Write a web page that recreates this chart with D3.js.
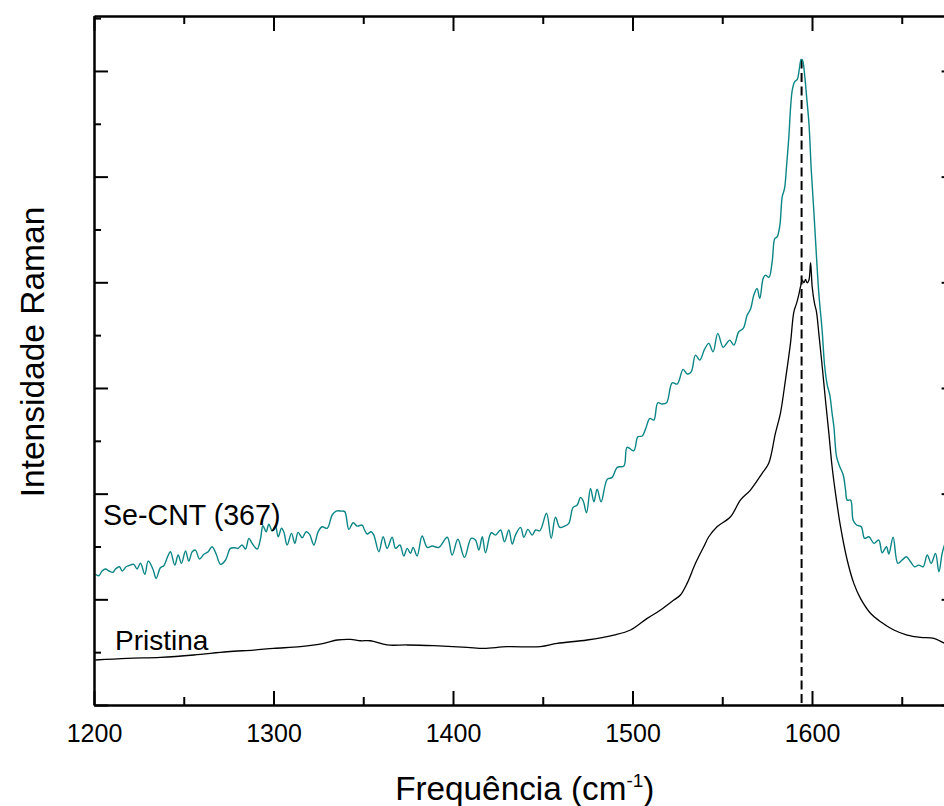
<!DOCTYPE html>
<html>
<head>
<meta charset="utf-8">
<script src="https://cdn.jsdelivr.net/npm/d3@7"></script>
<style>
  html, body { margin: 0; padding: 0; background: #fff; }
  svg { display: block; }
  text { font-family: "Liberation Sans", Arial, Helvetica, sans-serif; fill: #000; }
</style>
</head>
<body>
<svg id="chart" width="944" height="806"></svg>
<script>
// Raman spectra: wavenumber (cm-1) and intensity (a.u.)
const seCntFreq = [1200.8,1202.7,1204.5,1206.4,1208.3,1210.5,1212.0,1214.2,1215.7,1217.9,1219.4,1222.2,1224.0,1225.9,1228.3,1230.2,1232.8,1234.6,1237.0,1238.9,1240.8,1242.6,1245.0,1246.9,1248.7,1251.0,1252.8,1254.7,1256.5,1258.8,1261.2,1263.6,1265.8,1268.1,1270.5,1273.3,1276.0,1278.5,1280.3,1282.5,1284.4,1286.3,1288.1,1290.9,1292.8,1294.1,1295.9,1297.4,1299.3,1301.1,1302.6,1304.5,1305.8,1307.6,1310.0,1311.9,1313.7,1316.0,1318.2,1320.1,1322.5,1324.9,1327.1,1329.9,1332.7,1334.9,1337.9,1339.7,1342.0,1344.4,1346.6,1349.4,1350.7,1352.2,1354.4,1355.9,1358.7,1361.1,1363.3,1366.1,1368.0,1370.4,1372.6,1374.5,1376.3,1377.8,1380.0,1382.8,1385.6,1388.4,1392.1,1396.8,1399.5,1402.7,1406.4,1410.1,1412.5,1414.4,1416.3,1418.1,1421.3,1423.7,1426.5,1428.7,1431.1,1433.0,1434.8,1437.6,1439.5,1441.7,1444.1,1446.0,1448.4,1452.1,1454.7,1457.1,1459.5,1462.1,1464.5,1466.9,1469.2,1471.0,1472.5,1474.4,1476.6,1478.5,1480.3,1482.5,1485.9,1488.7,1491.5,1495.2,1497.0,1500.7,1503.0,1505.4,1507.2,1509.7,1511.9,1514.1,1516.5,1519.0,1522.1,1524.9,1528.2,1530.5,1532.7,1535.1,1537.5,1540.1,1542.5,1544.9,1547.5,1550.5,1552.7,1554.2,1556.5,1559.2,1561.7,1563.9,1565.7,1567.6,1569.4,1570.9,1572.8,1574.1,1576.0,1577.8,1579.3,1580.6,1582.1,1583.4,1584.7,1585.8,1587.1,1588.1,1589.0,1590.3,1591.8,1592.9,1594.0,1594.7,1595.9,1597.0,1598.3,1599.6,1601.1,1602.5,1603.8,1605.7,1607.0,1608.5,1609.9,1611.2,1612.2,1613.7,1615.5,1617.4,1618.7,1619.6,1621.5,1622.9,1624.8,1627.4,1629.3,1631.7,1634.5,1637.2,1639.1,1641.5,1642.8,1645.2,1647.8,1650.2,1652.6,1654.9,1657.1,1659.5,1661.9,1664.2,1666.4,1668.8,1670.7,1672.5,1673.8];
const seCntInt = [1.237,1.223,1.268,1.287,1.268,1.255,1.287,1.308,1.268,1.308,1.318,1.331,1.287,1.341,1.237,1.362,1.287,1.199,1.299,1.318,1.394,1.450,1.324,1.419,1.341,1.457,1.362,1.450,1.466,1.381,1.426,1.450,1.498,1.426,1.331,1.372,1.482,1.488,1.482,1.514,1.476,1.577,1.530,1.476,1.577,1.696,1.640,1.710,1.646,1.696,1.592,1.672,1.634,1.514,1.624,1.530,1.634,1.583,1.640,1.615,1.514,1.640,1.687,1.672,1.798,1.835,1.835,1.830,1.662,1.725,1.693,1.703,1.656,1.618,1.640,1.608,1.450,1.592,1.482,1.587,1.482,1.514,1.410,1.482,1.435,1.492,1.410,1.599,1.492,1.504,1.492,1.587,1.419,1.568,1.397,1.577,1.561,1.466,1.592,1.441,1.630,1.608,1.656,1.545,1.656,1.523,1.608,1.681,1.587,1.662,1.608,1.656,1.649,1.814,1.577,1.776,1.681,1.693,1.719,1.870,1.892,1.965,1.933,1.819,2.050,1.923,2.041,1.923,2.135,2.154,2.249,2.261,2.438,2.406,2.538,2.545,2.608,2.712,2.696,2.860,2.848,2.860,3.049,3.037,3.176,3.132,3.153,3.311,3.264,3.365,3.422,3.342,3.517,3.384,3.428,3.453,3.406,3.532,3.564,3.690,3.744,3.879,3.942,3.848,4.037,4.068,4.046,4.194,4.415,4.431,4.541,4.809,4.888,5.093,5.377,5.660,5.818,5.897,5.920,6.014,6.109,6.102,5.960,5.755,5.503,5.061,4.652,4.241,3.895,3.532,3.217,3.028,2.934,2.760,2.633,2.349,2.255,2.176,2.034,1.939,1.939,1.750,1.703,1.687,1.577,1.592,1.530,1.561,1.441,1.498,1.429,1.587,1.341,1.372,1.403,1.356,1.308,1.324,1.308,1.419,1.341,1.435,1.261,1.435,1.514];

const pristineFreq = [1200.8,1218.5,1237.0,1255.6,1274.2,1289.0,1300.2,1315.0,1328.0,1335.5,1342.9,1348.5,1354.0,1363.3,1374.5,1389.3,1407.9,1417.2,1430.2,1448.7,1458.0,1474.7,1489.6,1498.9,1508.2,1515.6,1523.0,1526.7,1530.4,1535.1,1539.7,1542.5,1547.1,1554.6,1560.1,1565.7,1572.2,1575.9,1579.6,1582.4,1585.2,1588.0,1589.9,1591.4,1592.7,1593.6,1594.6,1595.5,1596.4,1597.3,1598.3,1599.2,1600.1,1601.4,1602.5,1603.8,1605.7,1607.5,1609.4,1611.2,1613.1,1615.9,1619.6,1623.3,1627.0,1632.6,1638.2,1645.6,1653.0,1660.5,1667.9,1673.8];
const pristineInt = [0.426,0.442,0.451,0.473,0.504,0.520,0.536,0.552,0.583,0.615,0.621,0.608,0.608,0.568,0.568,0.561,0.546,0.536,0.552,0.552,0.583,0.615,0.662,0.710,0.820,0.899,0.993,1.041,1.151,1.341,1.498,1.592,1.687,1.781,1.939,2.034,2.192,2.287,2.570,2.760,3.075,3.422,3.721,3.800,3.888,3.958,4.021,3.995,4.027,3.995,4.021,4.185,3.958,3.800,3.721,3.517,3.201,2.886,2.570,2.255,2.003,1.687,1.372,1.151,1.009,0.868,0.788,0.710,0.662,0.640,0.631,0.583];

// G-band reference position marked by the dashed line
const gBandPosition = 1594.2;

// Axis ticks
const xMajorTicks = [1200, 1300, 1400, 1500, 1600];
const xMinorTicks = [1250, 1350, 1450, 1550, 1650];
const yMajorTicks = [0, 1, 2, 3, 4, 5, 6];
const yMinorTicks = [0.5, 1.5, 2.5, 3.5, 4.5, 5.5, 6.5];

const seriesLabels = ["Se-CNT (367)", "Pristina"];
const seriesColors = ["#0a8585", "#000000"];

const svg = d3.select("#chart");
const plotLeft = 94, plotRight = 955.6, plotTop = 16, plotBottom = 705;

const x = d3.scaleLinear().domain([1200, 1680]).range([plotLeft, plotRight]);
const y = d3.scaleLinear().domain([0, 6.52]).range([plotBottom, plotTop]);

const seCnt = seCntFreq.map((f, i) => ({ f, v: seCntInt[i] }));
const pristine = pristineFreq.map((f, i) => ({ f, v: pristineInt[i] }));

const line = d3.line().x(d => x(d.f)).y(d => y(d.v)).curve(d3.curveCatmullRom.alpha(0.5));

// dashed marker at the G band
const peakTop = d3.max(seCntInt);
svg.append("line")
  .attr("x1", x(gBandPosition)).attr("x2", x(gBandPosition))
  .attr("y1", y(peakTop)).attr("y2", y(0))
  .attr("stroke", "#000").attr("stroke-width", 2)
  .attr("stroke-dasharray", "9,4.5");

// spectra
svg.append("path").datum(pristine)
  .attr("d", line).attr("fill", "none")
  .attr("stroke", seriesColors[1]).attr("stroke-width", 1.3);
svg.append("path").datum(seCnt)
  .attr("d", line).attr("fill", "none")
  .attr("stroke", seriesColors[0]).attr("stroke-width", 1.4);

// axes (ticks point inward on all four sides)
function styleAxis(g) {
  g.selectAll("path.domain").attr("stroke", "#000").attr("stroke-width", 2);
  g.selectAll(".tick line").attr("stroke", "#000").attr("stroke-width", 2);
}

const bottomMajor = svg.append("g").attr("transform", `translate(0,${plotBottom})`)
  .call(d3.axisBottom(x).tickValues(xMajorTicks).tickSize(-14).tickSizeOuter(0).tickPadding(19).tickFormat(d3.format("d")));
bottomMajor.selectAll("text").attr("font-size", 25).attr("font-family", "Liberation Sans, Arial, sans-serif").attr("fill", "#000");
styleAxis(bottomMajor);
const bottomMinor = svg.append("g").attr("transform", `translate(0,${plotBottom})`)
  .call(d3.axisBottom(x).tickValues(xMinorTicks).tickSize(-8).tickSizeOuter(0).tickFormat(""));
styleAxis(bottomMinor);

const topMajor = svg.append("g").attr("transform", `translate(0,${plotTop})`)
  .call(d3.axisTop(x).tickValues(xMajorTicks).tickSize(-15).tickSizeOuter(0).tickFormat(""));
styleAxis(topMajor);
const topMinor = svg.append("g").attr("transform", `translate(0,${plotTop})`)
  .call(d3.axisTop(x).tickValues(xMinorTicks).tickSize(-8).tickSizeOuter(0).tickFormat(""));
styleAxis(topMinor);

const leftMajor = svg.append("g").attr("transform", `translate(${plotLeft},0)`)
  .call(d3.axisLeft(y).tickValues(yMajorTicks).tickSize(-14).tickSizeOuter(0).tickFormat(""));
styleAxis(leftMajor);
const leftMinor = svg.append("g").attr("transform", `translate(${plotLeft},0)`)
  .call(d3.axisLeft(y).tickValues(yMinorTicks).tickSize(-7).tickSizeOuter(0).tickFormat(""));
styleAxis(leftMinor);

const rightMajor = svg.append("g").attr("transform", `translate(${plotRight},0)`)
  .call(d3.axisRight(y).tickValues(yMajorTicks).tickSize(-14).tickSizeOuter(0).tickFormat(""));
styleAxis(rightMajor);
const rightMinor = svg.append("g").attr("transform", `translate(${plotRight},0)`)
  .call(d3.axisRight(y).tickValues(yMinorTicks).tickSize(-7).tickSizeOuter(0).tickFormat(""));
styleAxis(rightMinor);

// series labels
svg.append("text").attr("x", 103).attr("y", 525).attr("font-size", 28.6).text(seriesLabels[0]);
svg.append("text").attr("x", 115).attr("y", 650).attr("font-size", 28).text(seriesLabels[1]);

// axis titles
const xTitle = svg.append("text").attr("x", (plotLeft + plotRight) / 2).attr("y", 800)
  .attr("text-anchor", "middle").attr("font-size", 33.3);
xTitle.append("tspan").text("Frequência (cm");
xTitle.append("tspan").attr("font-size", 19).attr("dy", -13).text("-1");
xTitle.append("tspan").attr("dy", 13).text(")");

svg.append("text")
  .attr("transform", `translate(44,352) rotate(-90)`)
  .attr("text-anchor", "middle").attr("font-size", 33.5)
  .text("Intensidade Raman");
</script>
</body>
</html>
